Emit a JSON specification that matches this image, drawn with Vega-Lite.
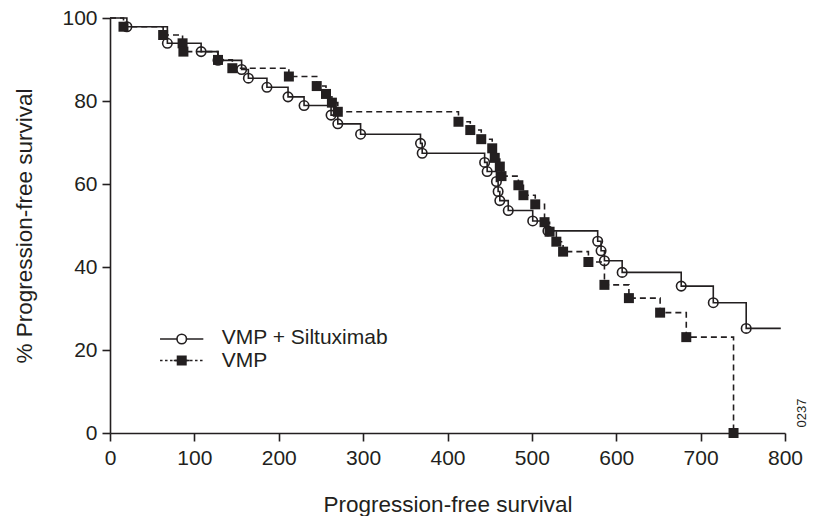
{
  "$schema": "https://vega.github.io/schema/vega-lite/v6.json",
  "width": 675,
  "height": 415,
  "autosize": {"type": "none"},
  "padding": {"left": 110, "top": 18, "right": 31, "bottom": 83},
  "background": "white",
  "config": {
    "view": {"stroke": null},
    "font": "Liberation Sans",
    "axis": {
      "grid": false,
      "domainColor": "#231f20",
      "domainWidth": 1.6,
      "tickColor": "#231f20",
      "tickWidth": 1.6,
      "tickSize": 8,
      "labelFont": "Liberation Sans",
      "labelFontSize": 21,
      "labelColor": "#231f20",
      "titleFont": "Liberation Sans",
      "titleFontSize": 22.5,
      "titleFontWeight": "normal",
      "titleColor": "#231f20"
    }
  },
  "data": {
    "values": [
      {"group": "VMP + Siltuximab", "t": 0, "s": 100, "ev": 0},
      {"group": "VMP + Siltuximab", "t": 20, "s": 97.9, "ev": 1},
      {"group": "VMP + Siltuximab", "t": 68, "s": 93.9, "ev": 1},
      {"group": "VMP + Siltuximab", "t": 108, "s": 91.9, "ev": 1},
      {"group": "VMP + Siltuximab", "t": 128, "s": 89.8, "ev": 1},
      {"group": "VMP + Siltuximab", "t": 156, "s": 87.6, "ev": 1},
      {"group": "VMP + Siltuximab", "t": 164, "s": 85.5, "ev": 1},
      {"group": "VMP + Siltuximab", "t": 186, "s": 83.3, "ev": 1},
      {"group": "VMP + Siltuximab", "t": 211, "s": 81.0, "ev": 1},
      {"group": "VMP + Siltuximab", "t": 230, "s": 78.9, "ev": 1},
      {"group": "VMP + Siltuximab", "t": 262, "s": 76.6, "ev": 1},
      {"group": "VMP + Siltuximab", "t": 270, "s": 74.5, "ev": 1},
      {"group": "VMP + Siltuximab", "t": 297, "s": 72.0, "ev": 1},
      {"group": "VMP + Siltuximab", "t": 368, "s": 69.8, "ev": 1},
      {"group": "VMP + Siltuximab", "t": 370, "s": 67.4, "ev": 1},
      {"group": "VMP + Siltuximab", "t": 444, "s": 65.2, "ev": 1},
      {"group": "VMP + Siltuximab", "t": 447, "s": 63.0, "ev": 1},
      {"group": "VMP + Siltuximab", "t": 458, "s": 60.6, "ev": 1},
      {"group": "VMP + Siltuximab", "t": 460, "s": 58.2, "ev": 1},
      {"group": "VMP + Siltuximab", "t": 462, "s": 56.0, "ev": 1},
      {"group": "VMP + Siltuximab", "t": 472, "s": 53.6, "ev": 1},
      {"group": "VMP + Siltuximab", "t": 501, "s": 51.1, "ev": 1},
      {"group": "VMP + Siltuximab", "t": 519, "s": 48.7, "ev": 1},
      {"group": "VMP + Siltuximab", "t": 578, "s": 46.2, "ev": 1},
      {"group": "VMP + Siltuximab", "t": 582, "s": 43.9, "ev": 1},
      {"group": "VMP + Siltuximab", "t": 586, "s": 41.5, "ev": 1},
      {"group": "VMP + Siltuximab", "t": 607, "s": 38.7, "ev": 1},
      {"group": "VMP + Siltuximab", "t": 677, "s": 35.4, "ev": 1},
      {"group": "VMP + Siltuximab", "t": 715, "s": 31.4, "ev": 1},
      {"group": "VMP + Siltuximab", "t": 754, "s": 25.2, "ev": 1},
      {"group": "VMP + Siltuximab", "t": 795, "s": 25.2, "ev": 0},
      {"group": "VMP", "t": 0, "s": 100, "ev": 0},
      {"group": "VMP", "t": 16, "s": 97.9, "ev": 1},
      {"group": "VMP", "t": 63, "s": 95.9, "ev": 1},
      {"group": "VMP", "t": 86, "s": 93.9, "ev": 1},
      {"group": "VMP", "t": 87, "s": 91.9, "ev": 1},
      {"group": "VMP", "t": 128, "s": 89.9, "ev": 1},
      {"group": "VMP", "t": 145, "s": 87.9, "ev": 1},
      {"group": "VMP", "t": 212, "s": 85.9, "ev": 1},
      {"group": "VMP", "t": 245, "s": 83.6, "ev": 1},
      {"group": "VMP", "t": 256, "s": 81.7, "ev": 1},
      {"group": "VMP", "t": 263, "s": 79.6, "ev": 1},
      {"group": "VMP", "t": 270, "s": 77.4, "ev": 1},
      {"group": "VMP", "t": 413, "s": 75.0, "ev": 1},
      {"group": "VMP", "t": 427, "s": 73.0, "ev": 1},
      {"group": "VMP", "t": 440, "s": 70.8, "ev": 1},
      {"group": "VMP", "t": 453, "s": 68.6, "ev": 1},
      {"group": "VMP", "t": 456, "s": 66.3, "ev": 1},
      {"group": "VMP", "t": 462, "s": 64.2, "ev": 1},
      {"group": "VMP", "t": 464, "s": 61.9, "ev": 1},
      {"group": "VMP", "t": 484, "s": 59.7, "ev": 1},
      {"group": "VMP", "t": 490, "s": 57.3, "ev": 1},
      {"group": "VMP", "t": 504, "s": 55.1, "ev": 1},
      {"group": "VMP", "t": 515, "s": 50.8, "ev": 1},
      {"group": "VMP", "t": 521, "s": 48.5, "ev": 1},
      {"group": "VMP", "t": 529, "s": 46.1, "ev": 1},
      {"group": "VMP", "t": 537, "s": 43.7, "ev": 1},
      {"group": "VMP", "t": 567, "s": 41.2, "ev": 1},
      {"group": "VMP", "t": 586, "s": 35.7, "ev": 1},
      {"group": "VMP", "t": 615, "s": 32.5, "ev": 1},
      {"group": "VMP", "t": 652, "s": 29.0, "ev": 1},
      {"group": "VMP", "t": 683, "s": 23.1, "ev": 1},
      {"group": "VMP", "t": 739, "s": 0, "ev": 1}
    ]
  },
  "layer": [
    {
      "mark": {"type": "line", "interpolate": "step-after", "strokeWidth": 1.6, "color": "#231f20"},
      "encoding": {
        "x": {
          "field": "t",
          "type": "quantitative",
          "scale": {"domain": [0, 800], "nice": false, "zero": false},
          "axis": {
            "values": [0, 100, 200, 300, 400, 500, 600, 700, 800],
            "labelPadding": 6,
            "labelFlush": false,
            "labelOverlap": false,
            "title": "Progression-free survival",
            "titleY": 78,
            "titleBaseline": "alphabetic"
          }
        },
        "y": {
          "field": "s",
          "type": "quantitative",
          "scale": {"domain": [0, 100], "nice": false},
          "axis": {
            "values": [0, 20, 40, 60, 80, 100],
            "labelPadding": 5,
            "title": "% Progression-free survival",
            "titleAngle": 270,
            "titleX": -79,
            "titleBaseline": "alphabetic",
            "titleAlign": "center"
          }
        },
        "strokeDash": {
          "field": "group",
          "type": "nominal",
          "scale": {"domain": ["VMP + Siltuximab", "VMP"], "range": [[1, 0], [6, 4]]},
          "legend": null
        }
      }
    },
    {
      "transform": [{"filter": "datum.ev == 1 && datum.group == 'VMP + Siltuximab'"}],
      "mark": {"type": "point", "shape": "circle", "filled": false, "size": 90, "strokeWidth": 1.6, "color": "#231f20", "opacity": 1},
      "encoding": {
        "x": {"field": "t", "type": "quantitative"},
        "y": {"field": "s", "type": "quantitative"}
      }
    },
    {
      "transform": [{"filter": "datum.ev == 1 && datum.group == 'VMP'"}],
      "mark": {"type": "square", "size": 100, "color": "#231f20", "opacity": 1},
      "encoding": {
        "x": {"field": "t", "type": "quantitative"},
        "y": {"field": "s", "type": "quantitative"}
      }
    },
    {
      "data": {"values": [{"label": "VMP + Siltuximab"}]},
      "mark": {"type": "rule", "strokeWidth": 1.6, "color": "#231f20"},
      "encoding": {
        "x": {"datum": 59.3},
        "x2": {"datum": 110.6},
        "y": {"datum": 22.65}
      }
    },
    {
      "data": {"values": [{"label": "VMP + Siltuximab"}]},
      "mark": {"type": "point", "shape": "circle", "filled": true, "fill": "white", "stroke": "#231f20", "strokeWidth": 1.6, "size": 90, "opacity": 1},
      "encoding": {
        "x": {"datum": 85},
        "y": {"datum": 22.65}
      }
    },
    {
      "data": {"values": [{"label": "VMP + Siltuximab"}]},
      "mark": {"type": "text", "align": "left", "baseline": "middle", "fontSize": 21, "font": "Liberation Sans", "fill": "#231f20"},
      "encoding": {
        "x": {"datum": 132.4},
        "y": {"datum": 22.8},
        "text": {"field": "label"}
      }
    },
    {
      "data": {"values": [{"label": "VMP"}]},
      "mark": {"type": "rule", "strokeWidth": 1.6, "color": "#231f20", "strokeDash": [2.5, 2.5]},
      "encoding": {
        "x": {"datum": 59.3},
        "x2": {"datum": 110.6},
        "y": {"datum": 17.47}
      }
    },
    {
      "data": {"values": [{"label": "VMP"}]},
      "mark": {"type": "rule", "strokeWidth": 1.6, "color": "#231f20"},
      "encoding": {
        "x": {"datum": 75.5},
        "x2": {"datum": 94.5},
        "y": {"datum": 17.47}
      }
    },
    {
      "data": {"values": [{"label": "VMP"}]},
      "mark": {"type": "square", "size": 100, "color": "#231f20", "opacity": 1},
      "encoding": {
        "x": {"datum": 85},
        "y": {"datum": 17.47}
      }
    },
    {
      "data": {"values": [{"label": "VMP"}]},
      "mark": {"type": "text", "align": "left", "baseline": "middle", "fontSize": 21, "font": "Liberation Sans", "fill": "#231f20"},
      "encoding": {
        "x": {"datum": 132.4},
        "y": {"datum": 17.3},
        "text": {"field": "label"}
      }
    },
    {
      "data": {"values": [{"label": "0237"}]},
      "mark": {"type": "text", "angle": 270, "fontSize": 13, "font": "Liberation Sans", "fill": "#231f20", "align": "center", "baseline": "middle"},
      "encoding": {
        "x": {"datum": 820},
        "y": {"datum": 4.8},
        "text": {"field": "label"}
      }
    }
  ]
}
